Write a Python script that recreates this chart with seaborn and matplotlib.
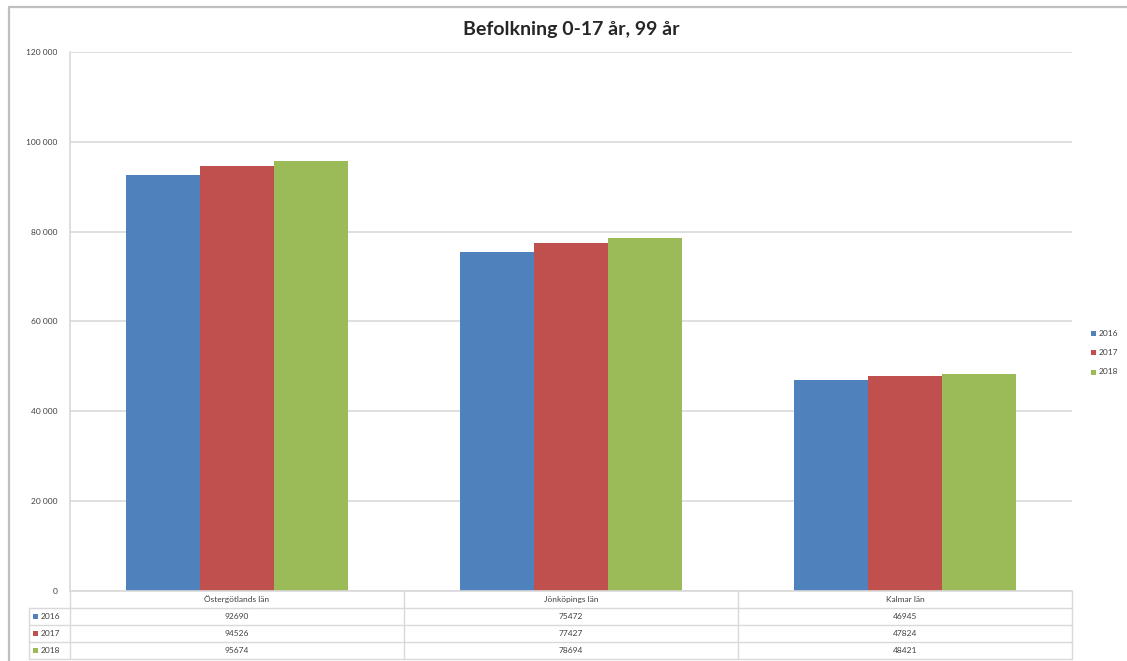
import matplotlib
matplotlib.use("Agg")
import matplotlib.pyplot as plt
from matplotlib.lines import Line2D
from matplotlib.patches import Rectangle
import seaborn as sns
import pandas as pd

# Population 0-17 years per county and year
regions = ["Östergötlands län", "Jönköpings län", "Kalmar län"]
years = ["2016", "2017", "2018"]
v2016 = [92690, 75472, 46945]
v2017 = [94526, 77427, 47824]
v2018 = [95674, 78694, 48421]
yticks = [0, 20000, 40000, 60000, 80000, 100000, 120000]
title = "Befolkning 0-17 år, 99 år"

colors = ["#4F81BD", "#C0504D", "#9BBB59"]
grid_c = "#D9D9D9"
text_c = "#404040"

series = {"2016": v2016, "2017": v2017, "2018": v2018}
df = pd.DataFrame(
    [(r, y, series[y][i]) for y in years for i, r in enumerate(regions)],
    columns=["region", "year", "value"],
)

sns.set_style("white")
plt.rcParams["font.family"] = ["Liberation Sans Narrow", "Lato", "DejaVu Sans"]

W, H = 1127, 661
fig = plt.figure(figsize=(W / 100, H / 100), dpi=100)

def fx(px):
    return px / W

def fy(py):
    return 1 - py / H

left, right, top, bottom = 70, 1072, 52, 591
ax = fig.add_axes([fx(left), fy(bottom), fx(right - left), fy(top) - fy(bottom)])

sns.barplot(data=df, x="region", y="value", hue="year", hue_order=years,
            order=regions, palette=colors, width=2 / 3, gap=0,
            saturation=1, ax=ax, legend=False, edgecolor="none")

ax.set_xlim(-0.5, len(regions) - 0.5)
ax.set_ylim(0, max(yticks))
ax.set_yticks(yticks)
ax.set_yticklabels([f"{t:,}".replace(",", " ") for t in yticks],
                   fontsize=6, color=text_c)
ax.set_xticks([])
ax.set_xlabel("")
ax.set_ylabel("")
ax.tick_params(axis="y", length=0, pad=9)
ax.yaxis.grid(True, color=grid_c, linewidth=1.2)
ax.set_axisbelow(True)
for s in ["top", "right"]:
    ax.spines[s].set_visible(False)
ax.spines["left"].set_color(grid_c)
ax.spines["left"].set_linewidth(1.2)
ax.spines["bottom"].set_color(grid_c)
ax.spines["bottom"].set_linewidth(1.2)

# Data table under the plot, columns aligned with the category slots
tab_left = 29
row_h = 17
n_rows = len(years) + 1
tab_bottom = bottom + row_h * n_rows
lw = 1.0

def hline(py, x0, x1):
    fig.add_artist(Line2D([fx(x0), fx(x1)], [fy(py), fy(py)], color=grid_c,
                          linewidth=lw, transform=fig.transFigure))

def vline(px, y0, y1):
    fig.add_artist(Line2D([fx(px), fx(px)], [fy(y0), fy(y1)], color=grid_c,
                          linewidth=lw, transform=fig.transFigure))

col_w = (right - left) / len(regions)
for k in range(1, n_rows):
    hline(bottom + row_h * k, tab_left, right)
hline(tab_bottom, tab_left, right)
vline(tab_left, bottom + row_h, tab_bottom)
vline(left, bottom, tab_bottom)
for j in range(1, len(regions) + 1):
    vline(left + col_w * j, bottom, tab_bottom)

for j, r in enumerate(regions):
    cx = left + col_w * (j + 0.5)
    fig.text(fx(cx), fy(bottom + row_h * 0.5), r, ha="center", va="center",
             fontsize=6, color=text_c)
    for i, y in enumerate(years):
        fig.text(fx(cx), fy(bottom + row_h * (i + 1.5)), str(series[y][j]),
                 ha="center", va="center", fontsize=6, color=text_c)

for i, y in enumerate(years):
    cy = bottom + row_h * (i + 1.5)
    fig.add_artist(Rectangle((fx(33), fy(cy + 2.5)), fx(5), fy(cy - 2.5) - fy(cy + 2.5),
                             facecolor=colors[i], edgecolor="none",
                             transform=fig.transFigure))
    fig.text(fx(41), fy(cy), y, ha="left", va="center", fontsize=6, color=text_c)

# Legend on the right
for i, y in enumerate(years):
    cy = 333 + 19.5 * i
    fig.add_artist(Rectangle((fx(1091), fy(cy + 2.5)), fx(5), fy(cy - 2.5) - fy(cy + 2.5),
                             facecolor=colors[i], edgecolor="none",
                             transform=fig.transFigure))
    fig.text(fx(1099), fy(cy), y, ha="left", va="center", fontsize=6, color=text_c)

fig.text(fx(571), fy(30), title, ha="center", va="center", fontsize=14,
         fontweight="bold", color="#262626", family=["Lato", "DejaVu Sans"])

# Chart frame
fig.add_artist(Line2D([fx(9), fx(9), 1.0], [0.0, fy(7), fy(7)], color="#BFBFBF",
                      linewidth=1.6, transform=fig.transFigure))

fig.savefig("out.png", dpi=100)
